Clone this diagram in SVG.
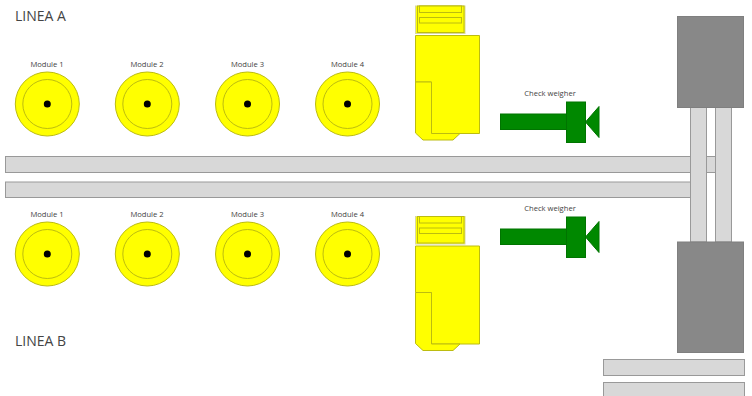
<svg xmlns="http://www.w3.org/2000/svg" width="752" height="396" viewBox="0 0 752 396">
<style>
text{font-family:"Open Sans","Noto Sans",sans-serif;fill:#444}
.t{font-size:14px}
.l{font-size:7.600px;text-anchor:middle}
.lane{fill:#d8d8d8;stroke:#999;stroke-width:1}
.block{fill:#888;stroke:#7f7f7f;stroke-width:1}
.y{fill:#ff0;stroke:#bcbc10;stroke-width:1}
.g{fill:#008800;stroke:#007400;stroke-width:1}
.d{fill:#000;stroke:none}
</style>
<defs>
<g id="mod"><circle class="y" r="32"/><circle class="y" r="24.500"/><circle class="d" r="3.500"/></g>
<g id="fill">
<rect x="415.500" y="6" width="49.500" height="27.500" fill="#ff0" stroke="#d8d8a0"/>
<rect x="417.500" y="6" width="46.500" height="26.500" class="y"/>
<rect x="419.500" y="6" width="42" height="6.500" class="y"/>
<rect x="419.500" y="17.500" width="42" height="5.500" class="y"/>
<path class="y" d="M415.500 35.500H479.500V133.500H431.500V82H415.500Z"/>
<path class="y" d="M415.500 82H431.500V133.500H460L453 140H423L415.500 133Z"/>
</g>
<g id="cw">
<rect class="g" x="500.500" y="114" width="66" height="15.500"/>
<rect class="g" x="566.500" y="102" width="19" height="40.500"/>
<path class="g" d="M585.500 122L599 106.500V137.500Z"/>
</g>
</defs>
<g id="connectors">
<rect id="lane-top-stub" class="lane" x="706.500" y="156.500" width="9" height="16"/>
</g>
<g id="lane-a"><rect class="lane" x="5.500" y="156.500" width="685" height="16"/></g>
<g id="lane-b"><rect class="lane" x="5.500" y="182" width="685" height="15.500"/></g>
<g id="vertical-1"><rect class="lane" x="690.500" y="107" width="16" height="135"/></g>
<g id="vertical-2"><rect class="lane" x="715.500" y="107" width="16" height="135"/></g>
<g id="block-top"><rect class="block" x="677.500" y="16.500" width="66" height="91"/></g>
<g id="block-bottom"><rect class="block" x="677.500" y="242" width="66" height="110.500"/></g>
<g id="out-1"><rect class="lane" x="603.500" y="359.500" width="141" height="16"/></g>
<g id="out-2"><rect class="lane" x="603.500" y="382.500" width="141" height="16"/></g>
<g id="title-a"><text class="t" x="15" y="21">LINEA A</text></g>
<g id="title-b"><text class="t" x="15" y="346">LINEA B</text></g>
<g id="a1"><text class="l" x="47" y="66.500">Module 1</text><use href="#mod" x="47.300" y="104"/></g>
<g id="a2"><text class="l" x="147" y="66.500">Module 2</text><use href="#mod" x="147.300" y="104"/></g>
<g id="a3"><text class="l" x="247.500" y="66.500">Module 3</text><use href="#mod" x="247.500" y="104"/></g>
<g id="a4"><text class="l" x="347.500" y="66.500">Module 4</text><use href="#mod" x="347.500" y="104"/></g>
<g id="b1"><text class="l" x="47" y="216.500">Module 1</text><use href="#mod" x="47.300" y="254"/></g>
<g id="b2"><text class="l" x="147" y="216.500">Module 2</text><use href="#mod" x="147.300" y="254"/></g>
<g id="b3"><text class="l" x="247.500" y="216.500">Module 3</text><use href="#mod" x="247.500" y="254"/></g>
<g id="b4"><text class="l" x="347.500" y="216.500">Module 4</text><use href="#mod" x="347.500" y="254"/></g>
<g id="filler-a"><use href="#fill"/></g>
<g id="filler-b"><use href="#fill" y="210.500"/></g>
<g id="cw-a"><text class="l" x="550" y="96">Check weigher</text><use href="#cw"/></g>
<g id="cw-b"><text class="l" x="550" y="211">Check weigher</text><use href="#cw" y="115"/></g>
</svg>
